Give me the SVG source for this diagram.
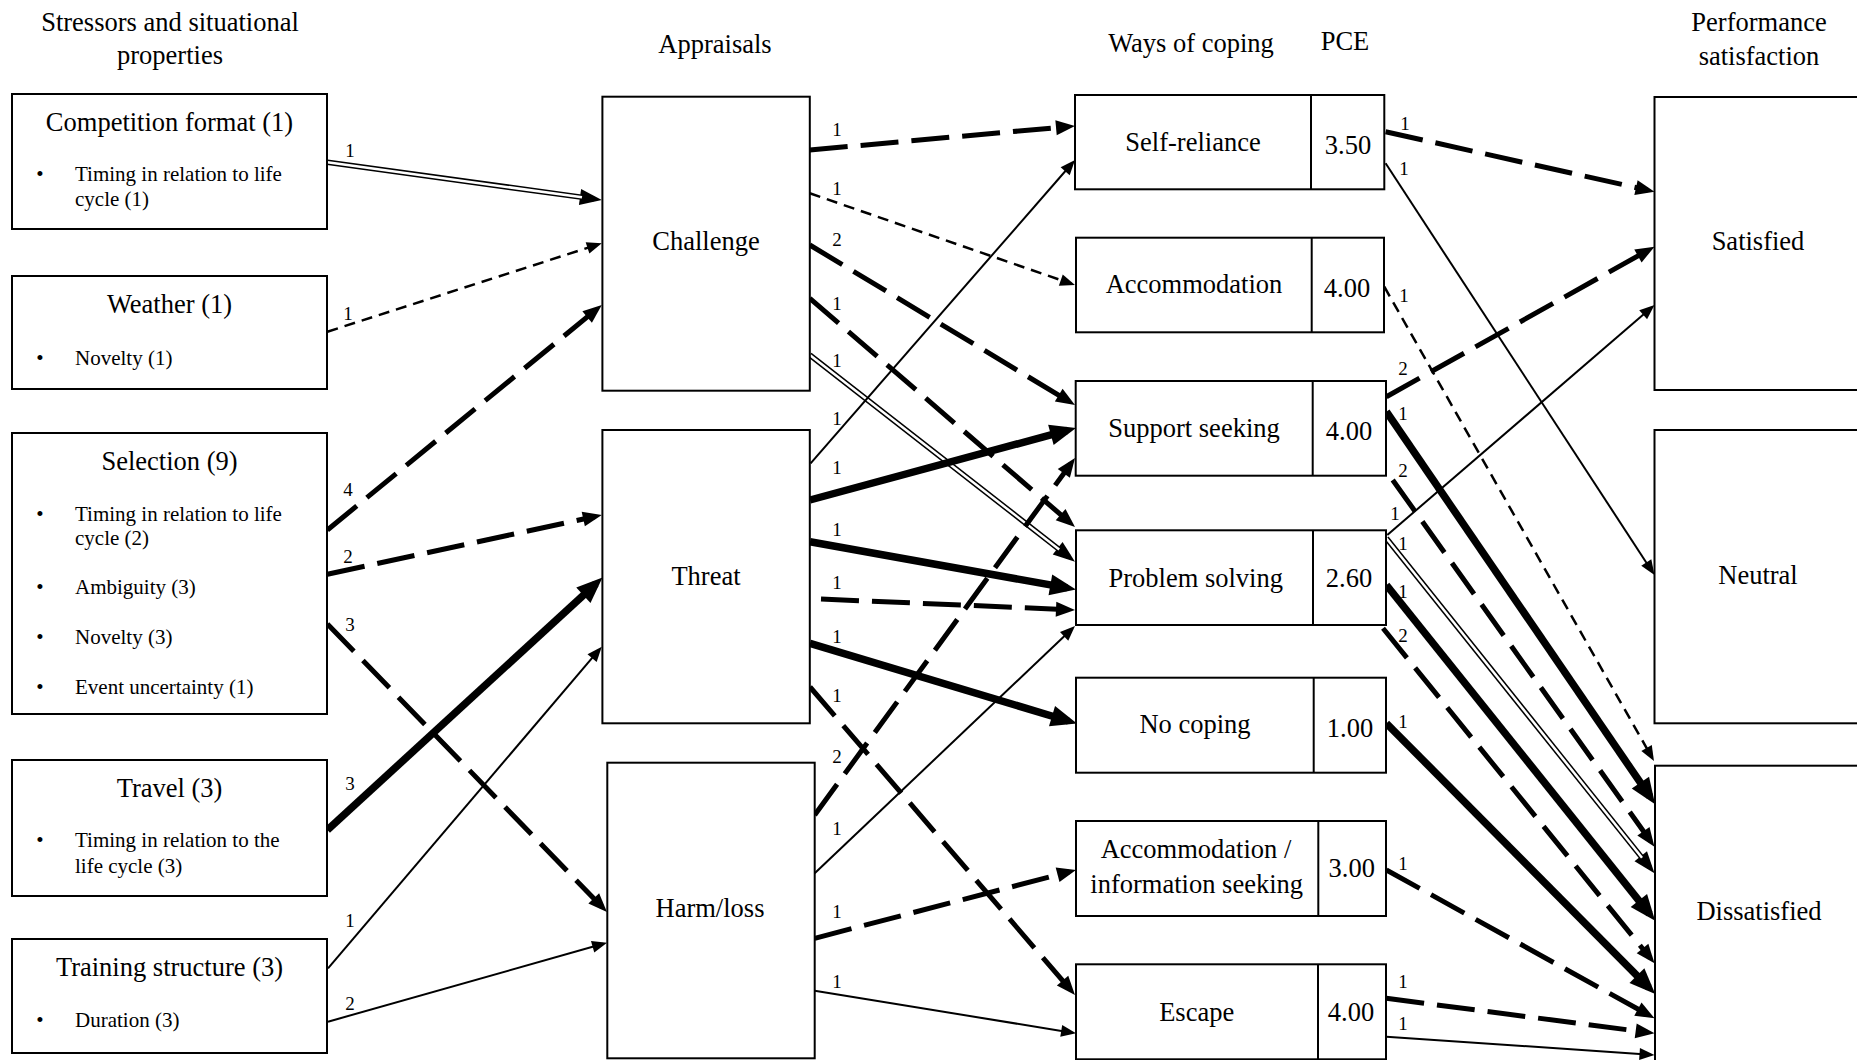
<svg xmlns="http://www.w3.org/2000/svg" width="1857" height="1060" viewBox="0 0 1857 1060">
<defs>
<style>
.box{fill:#fff;stroke:#000;stroke-width:2}
.div{stroke:#000;stroke-width:2}
text{font-family:"Liberation Serif","Times New Roman",serif;fill:#000}
.h{font-size:26.5px;text-anchor:middle}
.b{font-size:21px}
.bul{font-size:21px;text-anchor:middle}
.lab{font-size:19px;text-anchor:middle}
.thin{stroke:#000;stroke-width:2;fill:none}
.tdash{stroke:#000;stroke-width:2.5;stroke-dasharray:11 7;fill:none}
.hdash{stroke:#000;stroke-width:5;stroke-dasharray:38 13;fill:none}
.heavy{stroke:#000;stroke-width:7.5;fill:none}
.dblo{stroke:#000;stroke-width:5.5;fill:none}
.dbli{stroke:#fff;stroke-width:2.5;fill:none}
</style>
<marker id="mThin" markerUnits="userSpaceOnUse" markerWidth="15" markerHeight="12" viewBox="0 0 15 12" refX="11" refY="6" orient="auto" overflow="visible"><path d="M0,0L15,6L0,12z"/></marker>
<marker id="mDash" markerUnits="userSpaceOnUse" markerWidth="19" markerHeight="15" viewBox="0 0 19 15" refX="12" refY="7.5" orient="auto" overflow="visible"><path d="M0,0L19,7.5L0,15z"/></marker>
<marker id="mHeavy" markerUnits="userSpaceOnUse" markerWidth="26" markerHeight="21" viewBox="0 0 26 21" refX="17" refY="10.5" orient="auto" overflow="visible"><path d="M0,0L26,10.5L0,21z"/></marker>
<marker id="mDbl" markerUnits="userSpaceOnUse" markerWidth="22" markerHeight="16" viewBox="0 0 22 16" refX="14" refY="8" orient="auto" overflow="visible"><path d="M0,0L22,8L0,16z"/></marker>
</defs>
<rect width="1857" height="1060" fill="#fff"/>

<g id="headings">
<text class="h" x="170" y="31">Stressors and situational</text>
<text class="h" x="170" y="64">properties</text>
<text class="h" x="715" y="52.5">Appraisals</text>
<text class="h" x="1191" y="51.5">Ways of coping</text>
<text class="h" x="1345" y="50">PCE</text>
<text class="h" x="1759" y="31">Performance</text>
<text class="h" x="1759" y="65">satisfaction</text>
</g>

<g id="connectors">
<path class="dblo" d="M327.4,162.3L593.9,198.9" marker-end="url(#mDbl)"/>
<path class="dbli" d="M327.4,162.3L582,197.3"/>
<path class="dblo" d="M809.8,355L1068.7,556.8" marker-end="url(#mDbl)"/>
<path class="dbli" d="M809.8,355L1059.2,549.4"/>
<path class="dblo" d="M1386.4,538.3L1649.5,867.1" marker-end="url(#mDbl)"/>
<path class="dbli" d="M1386.4,538.3L1642,857.7"/>
<path class="thin" d="M328,968.3L599.2,649.7" marker-end="url(#mThin)"/>
<path class="thin" d="M328,1021.7L603.2,943.8" marker-end="url(#mThin)"/>
<path class="thin" d="M810.6,463.3L1072.4,163" marker-end="url(#mThin)"/>
<path class="thin" d="M814.7,873.3L1072.1,628.8" marker-end="url(#mThin)"/>
<path class="thin" d="M814.7,990.7L1072.1,1032.7" marker-end="url(#mThin)"/>
<path class="thin" d="M1385.6,163.3L1652.3,571.7" marker-end="url(#mThin)"/>
<path class="thin" d="M1387.3,535L1651.5,307.6" marker-end="url(#mThin)"/>
<path class="thin" d="M1386.4,1036.7L1650.5,1054.7" marker-end="url(#mThin)"/>
<path class="tdash" d="M327.4,331.7L598,244.5" marker-end="url(#mThin)"/>
<path class="tdash" d="M809.8,193.3L1071.2,283.7" marker-end="url(#mThin)"/>
<path class="tdash" d="M1384.3,286.7L1652,757.5" marker-end="url(#mThin)"/>
<path class="hdash" d="M327.4,530L596.4,309.4" marker-end="url(#mDash)"/>
<path class="hdash" d="M327.4,574.3L595,516.5" marker-end="url(#mDash)"/>
<path class="hdash" d="M327.4,624L602.1,907" marker-end="url(#mDash)"/>
<path class="hdash" d="M809.8,150L1068,126.6" marker-end="url(#mDash)"/>
<path class="hdash" d="M809.8,245L1069,401.4" marker-end="url(#mDash)"/>
<path class="hdash" d="M809.8,298.3L1069.7,522.4" marker-end="url(#mDash)"/>
<path class="hdash" d="M821,599L1068,609.7" marker-end="url(#mDash)"/>
<path class="hdash" d="M810,687L1070.4,989.7" marker-end="url(#mDash)"/>
<path class="hdash" d="M814.7,815L1070.9,463.7" marker-end="url(#mDash)"/>
<path class="hdash" d="M814.7,938.3L1069.2,871.8" marker-end="url(#mDash)"/>
<path class="hdash" d="M1385.6,131.7L1647.7,190.2" marker-end="url(#mDash)"/>
<path class="hdash" d="M1386.4,396.7L1648.4,250.1" marker-end="url(#mDash)"/>
<path class="hdash" d="M1392.7,480L1650.4,841" marker-end="url(#mDash)"/>
<path class="hdash" d="M1383,628.3L1650.1,957.9" marker-end="url(#mDash)"/>
<path class="hdash" d="M1386.4,870L1648.4,1014.9" marker-end="url(#mDash)"/>
<path class="hdash" d="M1386.4,998.3L1647.6,1032.4" marker-end="url(#mDash)"/>
<path class="heavy" d="M327.4,830L595.9,583.7" marker-end="url(#mHeavy)"/>
<path class="heavy" d="M810,500L1067.3,430.4" marker-end="url(#mHeavy)"/>
<path class="heavy" d="M810,541.7L1067.1,587.9" marker-end="url(#mHeavy)"/>
<path class="heavy" d="M810,643.3L1068.3,721" marker-end="url(#mHeavy)"/>
<path class="heavy" d="M1386.4,411.7L1650,796.7" marker-end="url(#mHeavy)"/>
<path class="heavy" d="M1386.4,585L1649.5,913.8" marker-end="url(#mHeavy)"/>
<path class="heavy" d="M1386.4,723.3L1648.9,987.6" marker-end="url(#mHeavy)"/>
<g class="labels">
<text class="lab" x="350" y="157">1</text>
<text class="lab" x="348" y="320">1</text>
<text class="lab" x="348" y="496">4</text>
<text class="lab" x="348" y="563">2</text>
<text class="lab" x="350" y="630.5">3</text>
<text class="lab" x="350" y="790">3</text>
<text class="lab" x="350" y="926.5">1</text>
<text class="lab" x="350" y="1010">2</text>
<text class="lab" x="837" y="136">1</text>
<text class="lab" x="837" y="195">1</text>
<text class="lab" x="837" y="246">2</text>
<text class="lab" x="837" y="310">1</text>
<text class="lab" x="837" y="366.5">1</text>
<text class="lab" x="837" y="425">1</text>
<text class="lab" x="837" y="474">1</text>
<text class="lab" x="837" y="536">1</text>
<text class="lab" x="837" y="589">1</text>
<text class="lab" x="837" y="642.5">1</text>
<text class="lab" x="837" y="701.5">1</text>
<text class="lab" x="837" y="763">2</text>
<text class="lab" x="837" y="835">1</text>
<text class="lab" x="837" y="918">1</text>
<text class="lab" x="837" y="988">1</text>
<text class="lab" x="1405" y="130">1</text>
<text class="lab" x="1404" y="175">1</text>
<text class="lab" x="1404" y="301.5">1</text>
<text class="lab" x="1403" y="375">2</text>
<text class="lab" x="1395" y="520">1</text>
<text class="lab" x="1403" y="420">1</text>
<text class="lab" x="1403" y="476.5">2</text>
<text class="lab" x="1403" y="550">1</text>
<text class="lab" x="1403" y="598">1</text>
<text class="lab" x="1403" y="641.5">2</text>
<text class="lab" x="1403" y="728">1</text>
<text class="lab" x="1403" y="870">1</text>
<text class="lab" x="1403" y="988">1</text>
<text class="lab" x="1403" y="1030">1</text>
</g>
</g>

<g id="competition-format">
<rect class="box" x="12" y="94" width="315" height="135"/>
<text class="h" x="169.5" y="131">Competition format (1)</text>
<text class="bul" x="40" y="181">•</text>
<text class="b" x="75" y="181">Timing in relation to life</text>
<text class="b" x="75" y="206">cycle (1)</text>
</g>
<g id="weather">
<rect class="box" x="12" y="276" width="315" height="113"/>
<text class="h" x="169.5" y="313">Weather (1)</text>
<text class="bul" x="40" y="365">•</text>
<text class="b" x="75" y="365">Novelty (1)</text>
</g>
<g id="selection">
<rect class="box" x="12" y="433" width="315" height="281"/>
<text class="h" x="169.5" y="470">Selection (9)</text>
<text class="bul" x="40" y="520.5">•</text>
<text class="b" x="75" y="520.5">Timing in relation to life</text>
<text class="b" x="75" y="544.5">cycle (2)</text>
<text class="bul" x="40" y="594">•</text>
<text class="b" x="75" y="594">Ambiguity (3)</text>
<text class="bul" x="40" y="644">•</text>
<text class="b" x="75" y="644">Novelty (3)</text>
<text class="bul" x="40" y="694">•</text>
<text class="b" x="75" y="694">Event uncertainty (1)</text>
</g>
<g id="travel">
<rect class="box" x="12" y="760" width="315" height="136"/>
<text class="h" x="169.5" y="796.5">Travel (3)</text>
<text class="bul" x="40" y="846.5">•</text>
<text class="b" x="75" y="846.5">Timing in relation to the</text>
<text class="b" x="75" y="872.5">life cycle (3)</text>
</g>
<g id="training-structure">
<rect class="box" x="12" y="939" width="315" height="114"/>
<text class="h" x="169.5" y="976">Training structure (3)</text>
<text class="bul" x="40" y="1027">•</text>
<text class="b" x="75" y="1027">Duration (3)</text>
</g>

<g id="challenge">
<rect class="box" x="602.4" y="96.7" width="207.4" height="294"/>
<text class="h" x="706" y="250">Challenge</text>
</g>
<g id="threat">
<rect class="box" x="602.4" y="430" width="207.4" height="293.3"/>
<text class="h" x="706" y="584.5">Threat</text>
</g>
<g id="harm-loss">
<rect class="box" x="607.3" y="762.7" width="207.4" height="295.6"/>
<text class="h" x="710" y="917">Harm/loss</text>
</g>

<g id="self-reliance">
<rect class="box" x="1075" y="95" width="309.3" height="94.3"/>
<line class="div" x1="1311" y1="95" x2="1311" y2="189.3"/>
<text class="h" x="1193" y="150.5">Self-reliance</text>
<text class="h" x="1348" y="154">3.50</text>
</g>
<g id="accommodation">
<rect class="box" x="1076" y="237.7" width="308" height="94.6"/>
<line class="div" x1="1311.7" y1="237.7" x2="1311.7" y2="332.3"/>
<text class="h" x="1194" y="293.3">Accommodation</text>
<text class="h" x="1347" y="296.7">4.00</text>
</g>
<g id="support-seeking">
<rect class="box" x="1075.7" y="381" width="310.3" height="94.7"/>
<line class="div" x1="1312.7" y1="381" x2="1312.7" y2="475.7"/>
<text class="h" x="1194" y="436.7">Support seeking</text>
<text class="h" x="1349" y="440">4.00</text>
</g>
<g id="problem-solving">
<rect class="box" x="1076" y="530.3" width="310" height="94.7"/>
<line class="div" x1="1313" y1="530.3" x2="1313" y2="625"/>
<text class="h" x="1195.7" y="586.7">Problem solving</text>
<text class="h" x="1349" y="586.5">2.60</text>
</g>
<g id="no-coping">
<rect class="box" x="1076" y="677.7" width="310" height="95"/>
<line class="div" x1="1313.7" y1="677.7" x2="1313.7" y2="772.7"/>
<text class="h" x="1195" y="733.3">No coping</text>
<text class="h" x="1350" y="737.3">1.00</text>
</g>
<g id="accommodation-information-seeking">
<rect class="box" x="1076" y="821" width="310" height="95"/>
<line class="div" x1="1318.3" y1="821" x2="1318.3" y2="916"/>
<text class="h" x="1196" y="858.3">Accommodation /</text>
<text class="h" x="1196.7" y="893.3">information seeking</text>
<text class="h" x="1351.7" y="877.3">3.00</text>
</g>
<g id="escape">
<rect class="box" x="1076" y="964.3" width="310" height="95"/>
<line class="div" x1="1318" y1="964.3" x2="1318" y2="1059.3"/>
<text class="h" x="1196.7" y="1020.7">Escape</text>
<text class="h" x="1351" y="1020.7">4.00</text>
</g>

<g id="satisfied">
<rect class="box" x="1654.5" y="97" width="208" height="293"/>
<text class="h" x="1758" y="250">Satisfied</text>
</g>
<g id="neutral">
<rect class="box" x="1654.5" y="430" width="208" height="293.3"/>
<text class="h" x="1758" y="584">Neutral</text>
</g>
<g id="dissatisfied">
<rect class="box" x="1655" y="765.7" width="208" height="310"/>
<text class="h" x="1759" y="920">Dissatisfied</text>
</g>
</svg>
